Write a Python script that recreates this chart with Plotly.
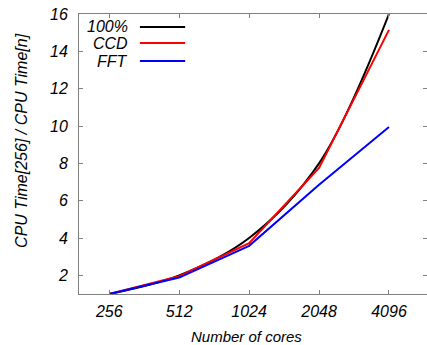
import plotly.graph_objects as go

# Core counts and speedup relative to 256 cores
cores = [256, 512, 1024, 2048, 4096]
ideal = [1, 2, 4, 8, 16]
ccd = [1, 1.95, 3.72, 7.75, 15.15]
fft = [1, 1.88, 3.58, 6.85, 9.95]

series_names = ["100%", "CCD", "FFT"]
series_values = [ideal, ccd, fft]
series_colors = ["#000000", "#ff0000", "#0000ff"]
series_shapes = ["spline", "linear", "linear"]

tick_labels = [str(c) for c in cores]
y_ticks = [2, 4, 6, 8, 10, 12, 14, 16]

x_title = "Number of cores"
y_title = "CPU Time[256] / CPU Time[n]"

FONT = "Liberation Sans"
AXIS_COLOR = "#808080"

fig = go.Figure()
for name, vals, color, shape in zip(series_names, series_values, series_colors, series_shapes):
    fig.add_trace(go.Scatter(
        x=cores, y=vals, name=name, mode="lines",
        line=dict(color=color, width=2, shape=shape, smoothing=1.0),
        showlegend=False,
    ))

# Key in the upper-left corner: label first, then a line sample
legend_rows = [0.954, 0.896, 0.832]
for name, color, yrow in zip(series_names, series_colors, legend_rows):
    fig.add_annotation(
        xref="paper", yref="paper", x=0.147, y=yrow, height=15,
        text=f"<i>{name}</i>", showarrow=False, xanchor="right", yanchor="middle",
        font=dict(family=FONT, size=16, color="#000000"),
    )
    fig.add_shape(
        type="line", xref="paper", yref="paper",
        x0=0.175, x1=0.305, y0=yrow, y1=yrow,
        line=dict(color=color, width=2),
    )

# Axis titles placed as free text
fig.add_annotation(
    xref="paper", yref="paper", x=0.481, y=-0.150,
    text=f"<i>{x_title}</i>", showarrow=False, xanchor="center", yanchor="middle",
    font=dict(family=FONT, size=15, color="#000000"),
)
fig.add_annotation(
    xref="paper", yref="paper", x=-0.167, y=0.55, textangle=-90,
    text=f"<i>{y_title}</i>", showarrow=False, xanchor="center", yanchor="middle",
    font=dict(family=FONT, size=16, color="#000000"),
)

fig.update_xaxes(
    type="log", range=[2.278, 3.776],
    tickvals=cores, ticktext=[f"<i>{t}</i>" for t in tick_labels],
    ticks="inside", ticklen=4, tickwidth=1, tickcolor=AXIS_COLOR,
    showline=True, linecolor=AXIS_COLOR, linewidth=1, mirror="ticks",
    showgrid=False, zeroline=False, ticklabelstandoff=3,
    tickfont=dict(family=FONT, size=16, color="#000000"),
)
fig.update_yaxes(
    range=[1, 16],
    tickvals=y_ticks, ticktext=[f"<i>{v}</i>" for v in y_ticks],
    ticks="inside", ticklen=4, tickwidth=1, tickcolor=AXIS_COLOR,
    showline=True, linecolor=AXIS_COLOR, linewidth=1, mirror="ticks",
    showgrid=False, zeroline=False, ticklabelstandoff=7,
    tickfont=dict(family=FONT, size=16, color="#000000"),
)

fig.update_layout(
    width=427, height=345,
    margin=dict(l=79, r=0, t=14, b=51),
    plot_bgcolor="white", paper_bgcolor="white",
    font=dict(family=FONT),
)

fig.write_html("out.html")
